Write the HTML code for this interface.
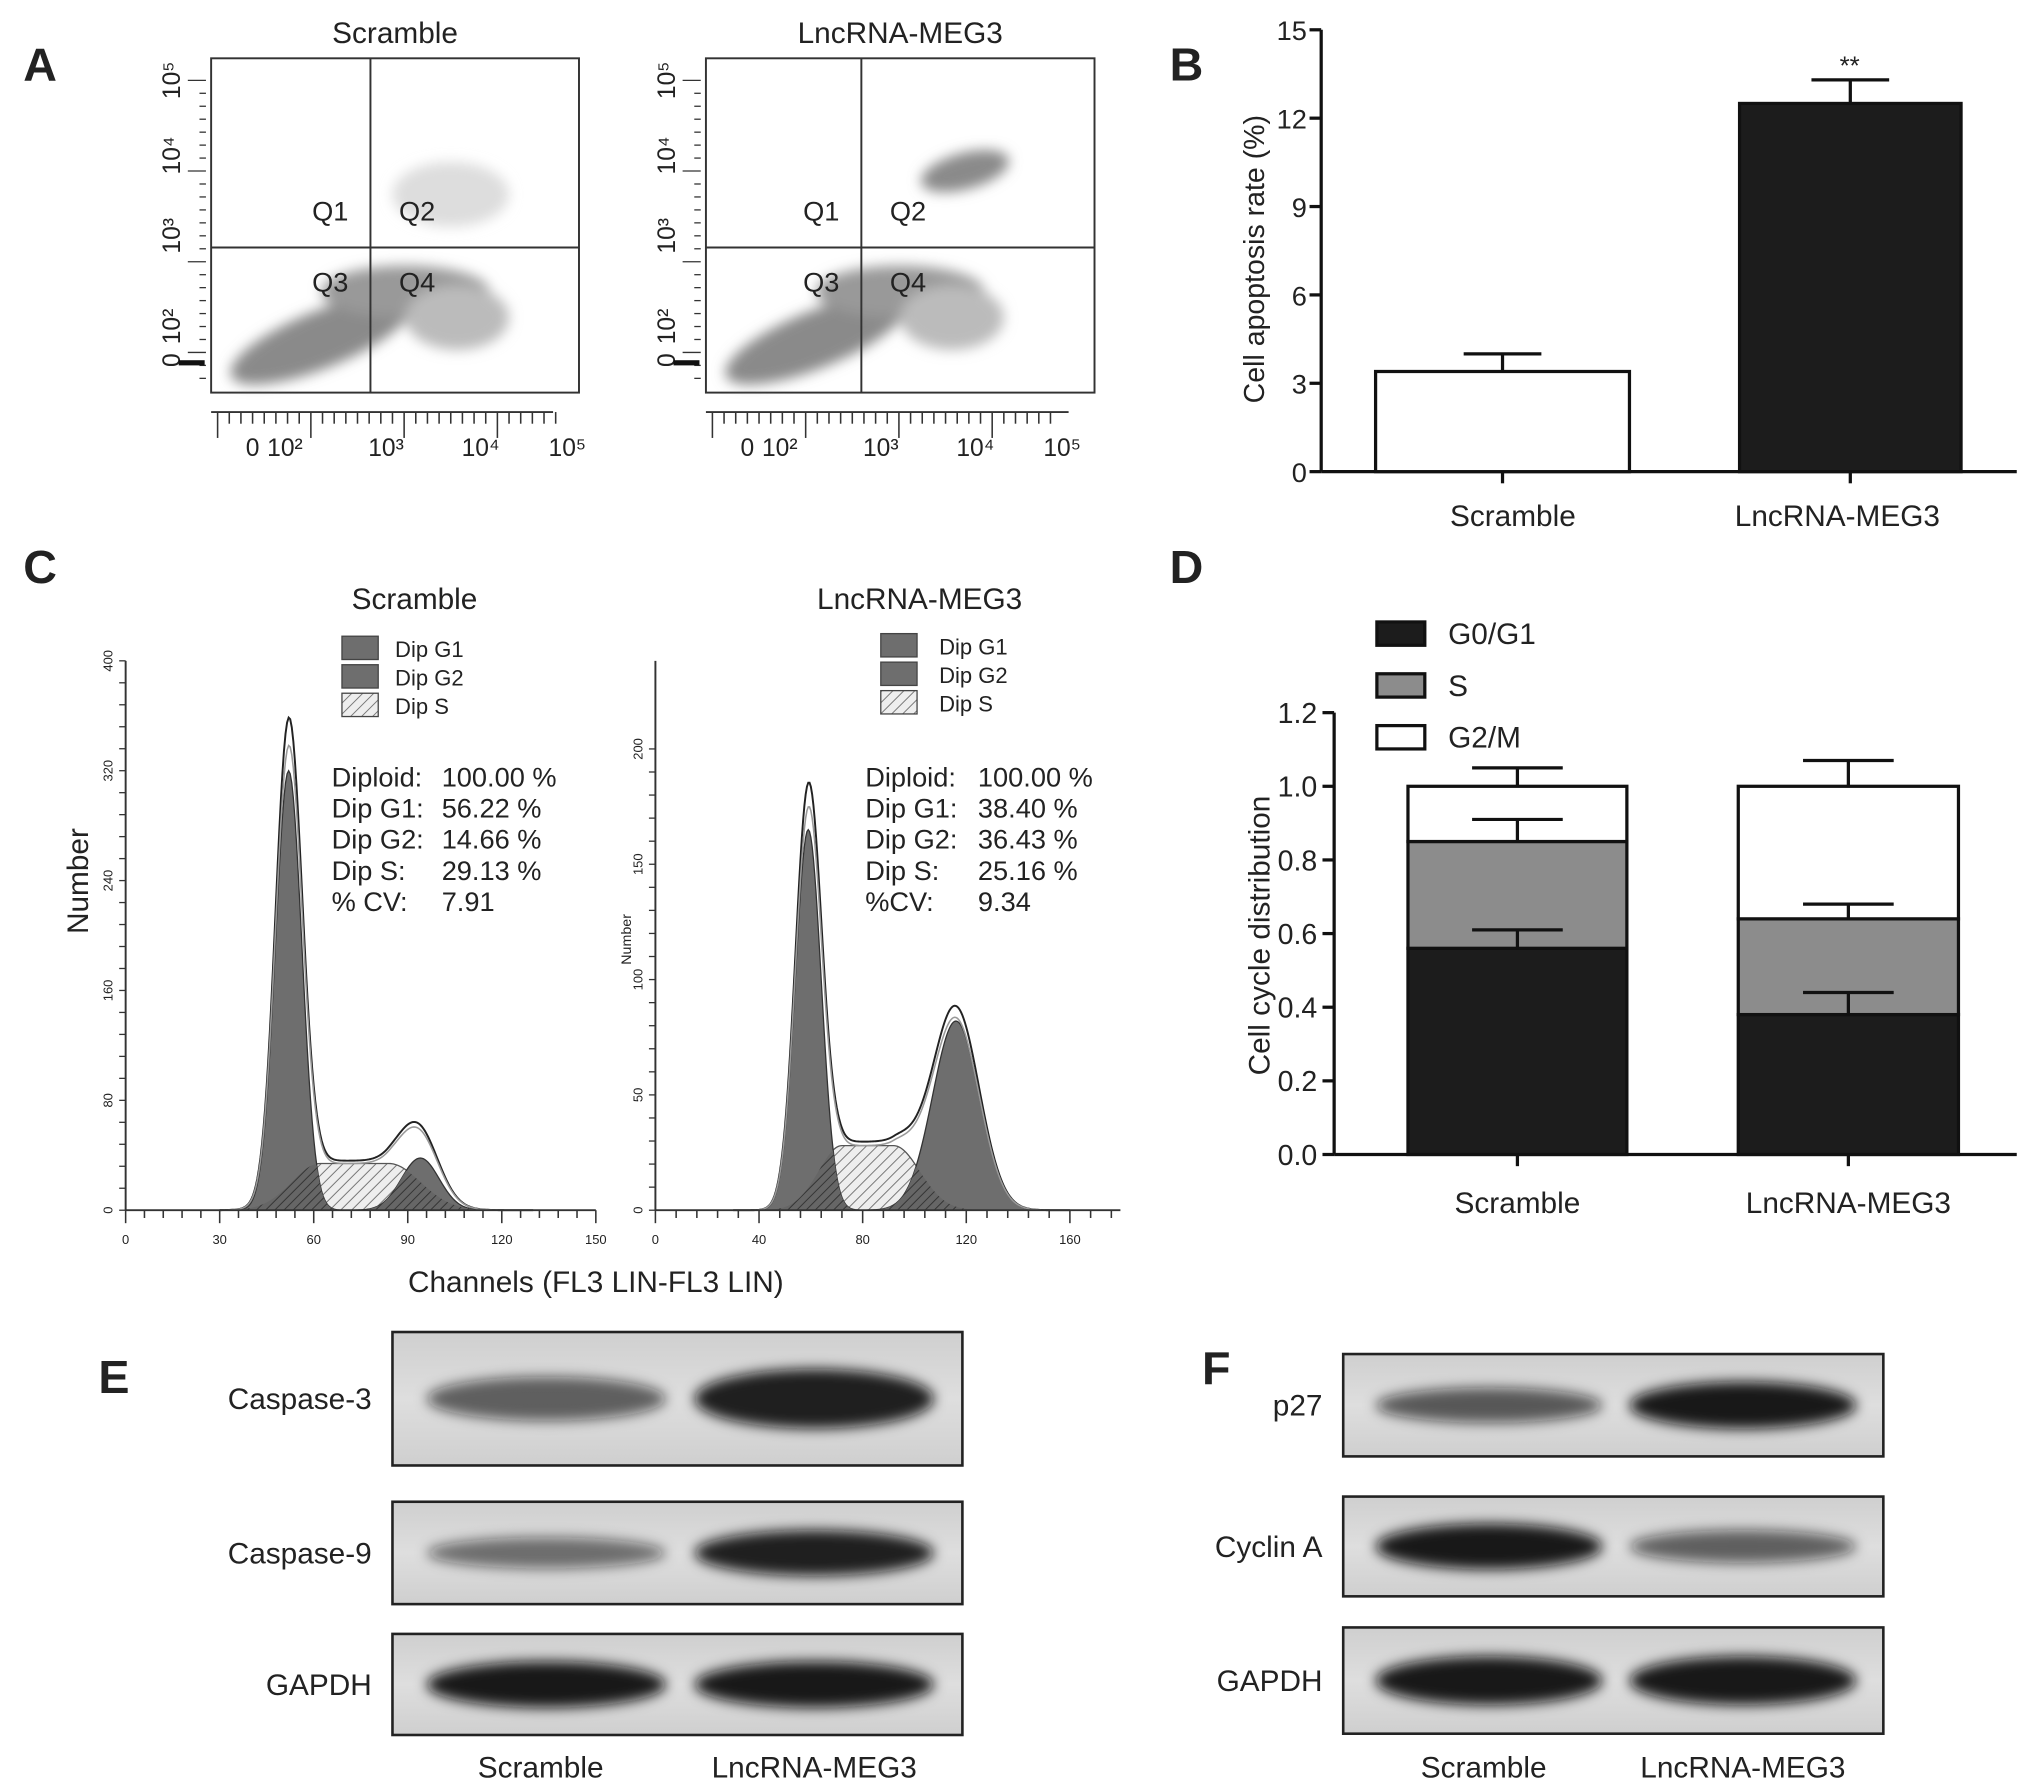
<!DOCTYPE html>
<html><head><meta charset="utf-8"><style>
html,body{margin:0;padding:0;background:#fff}
svg{display:block}
text{font-family:"Liberation Sans",Arial,sans-serif;fill:#222}
</style></head><body>
<svg id="fig" width="2031" height="1792" viewBox="0 0 1568 1383" preserveAspectRatio="none" xmlns="http://www.w3.org/2000/svg">
<defs>
<filter id="blur3" x="-50%" y="-50%" width="200%" height="200%"><feGaussianBlur stdDeviation="5"/></filter>
<filter id="blur1"><feGaussianBlur stdDeviation="2"/></filter>
<pattern id="hatch" width="6" height="6" patternUnits="userSpaceOnUse" patternTransform="rotate(45)"><rect width="6" height="6" fill="#eee"/><line x1="0" y1="0" x2="0" y2="6" stroke="#777" stroke-width="1.5"/></pattern>
<pattern id="hatchD" width="5" height="5" patternUnits="userSpaceOnUse" patternTransform="rotate(45)"><rect width="5" height="5" fill="#666"/><line x1="0" y1="0" x2="0" y2="5" stroke="#333" stroke-width="1.5"/></pattern>
<linearGradient id="blotbg" x1="0" y1="0" x2="0" y2="1"><stop offset="0" stop-color="#cfcfcf"/><stop offset="0.5" stop-color="#dedede"/><stop offset="1" stop-color="#cfcfcf"/></linearGradient>
</defs>

<text x="18" y="62" font-size="36" font-weight="bold">A</text>
<text x="903" y="62" font-size="36" font-weight="bold">B</text>
<text x="18" y="450" font-size="36" font-weight="bold">C</text>
<text x="903" y="450" font-size="36" font-weight="bold">D</text>
<text x="76" y="1075" font-size="36" font-weight="bold">E</text>
<text x="928" y="1068" font-size="36" font-weight="bold">F</text>

<g id="flowA"></g>
<g id="chartB"></g>
<g id="chartC"></g>
<g id="chartD"></g>
<g id="blots"></g>
</svg>
<script>
const NS='http://www.w3.org/2000/svg';
function mk(parent,tag,attrs,txt){const e=document.createElementNS(NS,tag);for(const k in attrs)e.setAttribute(k,attrs[k]);if(txt!==undefined)e.textContent=txt;parent.appendChild(e);return e;}

// ---------- Panel B data ----------
const bCategories=['Scramble','LncRNA-MEG3'];
const bValues=[3.4,12.5];
const bErrors=[0.6,0.8];
const bTicks=[0,3,6,9,12,15];
const bFills=['#fff','#1c1c1c'];

// ---------- Panel D data ----------
const dCategories=['Scramble','LncRNA-MEG3'];
const dG0G1=[0.56,0.38];
const dS=[0.29,0.26];
const dG2M=[0.15,0.36];
const dErrG0G1=[0.05,0.06];
const dErrS=[0.06,0.04];
const dErrG2M=[0.05,0.07];
const dTicks=[0.0,0.2,0.4,0.6,0.8,1.0,1.2];

// ---------- Panel C data (peak models) ----------
const cTitles=['Scramble','LncRNA-MEG3'];
const cG1Center=[52,59];const cG1Height=[320,165];const cG1Sigma=[4.2,5];
const cG2Center=[94,116];const cG2Height=[38,82];const cG2Sigma=[6,9];
const cSStart=[62,72];const cSEnd=[84,92];const cSHeight=[34,28];
const cXTicksL=[0,30,60,90,120,150];const cYTicksL=[0,80,160,240,320,400];
const cXTicksR=[0,40,80,120,160];const cYTicksR=[0,50,100,150,200];
const cStats=[[['Diploid:','100.00 %'],['Dip G1:','56.22 %'],['Dip G2:','14.66 %'],['Dip S:','29.13 %'],['% CV:','7.91']],
[['Diploid:','100.00 %'],['Dip G1:','38.40 %'],['Dip G2:','36.43 %'],['Dip S:','25.16 %'],['%CV:','9.34']]];

// ===== Panel B =====
(function(){
 const g=document.getElementById('chartB');
 const x0=1020,x1=1557,yb=364,yt=23,max=15;
 const y=v=>yb-(yb-yt)*v/max;
 const bx=[[1062,1258],[1343,1514]];
 mk(g,'line',{x1:x0,y1:yt,x2:x0,y2:yb,stroke:'#111','stroke-width':2.5});
 mk(g,'line',{x1:x0,y1:yb,x2:x1,y2:yb,stroke:'#111','stroke-width':2.5});
 bTicks.forEach(t=>{mk(g,'line',{x1:x0-9,y1:y(t),x2:x0,y2:y(t),stroke:'#111','stroke-width':2.5});
  const tl=mk(g,'text',{x:x0-11,y:y(t)+8,'font-size':21,'text-anchor':'end'},String(t));
  });
 bCategories.forEach((c,i)=>{
  const cx=(bx[i][0]+bx[i][1])/2;
  mk(g,'line',{x1:cx,y1:y(bValues[i]),x2:cx,y2:y(bValues[i]+bErrors[i]),stroke:'#111','stroke-width':2.5});
  mk(g,'line',{x1:cx-30,y1:y(bValues[i]+bErrors[i]),x2:cx+30,y2:y(bValues[i]+bErrors[i]),stroke:'#111','stroke-width':2.5});
  const r=mk(g,'rect',{x:bx[i][0],y:y(bValues[i]),width:bx[i][1]-bx[i][0],height:yb-y(bValues[i]),fill:bFills[i],stroke:'#111','stroke-width':2.5});
  
  mk(g,'line',{x1:cx,y1:yb,x2:cx,y2:yb+9,stroke:'#111','stroke-width':2.5});
  const t=mk(g,'text',{x:cx+(i?-10:8),y:406,'font-size':23,'text-anchor':'middle'},c);
  
 });
 const s=mk(g,'text',{x:1428,y:y(bValues[1]+bErrors[1])-4,'font-size':20,'text-anchor':'middle'},'**');
 
 const yt2=mk(g,'text',{x:0,y:0,'font-size':22,'text-anchor':'middle',transform:'translate(976,200) rotate(-90)'},'Cell apoptosis rate (%)');
 
})();

// ===== Panel D =====
(function(){
 const g=document.getElementById('chartD');
 const x0=1030,x1=1557,yb=891,yt=550,max=1.2;
 const y=v=>yb-(yb-yt)*v/max;
 const bx=[[1087,1256],[1342,1512]];
 mk(g,'line',{x1:x0,y1:yt,x2:x0,y2:yb,stroke:'#111','stroke-width':2.5});
 mk(g,'line',{x1:x0,y1:yb,x2:x1,y2:yb,stroke:'#111','stroke-width':2.5});
 dTicks.forEach(t=>{mk(g,'line',{x1:x0-9,y1:y(t),x2:x0,y2:y(t),stroke:'#111','stroke-width':2.5});
  const tl=mk(g,'text',{x:x0-13,y:y(t)+8,'font-size':22,'text-anchor':'end'},t.toFixed(1));
  });
 dCategories.forEach((c,i)=>{
  const w=bx[i][1]-bx[i][0],cx=(bx[i][0]+bx[i][1])/2;
  const segs=[[0,dG0G1[i],'#1c1c1c',dErrG0G1[i],'g0g1'],[dG0G1[i],dG0G1[i]+dS[i],'#8c8c8c',dErrS[i],'s'],[dG0G1[i]+dS[i],dG0G1[i]+dS[i]+dG2M[i],'#fff',dErrG2M[i],'g2m']];
  segs.forEach(sg=>{
   const r=mk(g,'rect',{x:bx[i][0],y:y(sg[1]),width:w,height:y(sg[0])-y(sg[1]),fill:sg[2],stroke:'#111','stroke-width':2.5});
   
  });
  segs.forEach(sg=>{
   mk(g,'line',{x1:cx,y1:y(sg[1]),x2:cx,y2:y(sg[1]+sg[3]),stroke:'#111','stroke-width':2.5});
   mk(g,'line',{x1:cx-35,y1:y(sg[1]+sg[3]),x2:cx+35,y2:y(sg[1]+sg[3]),stroke:'#111','stroke-width':2.5});
  });
  mk(g,'line',{x1:cx,y1:yb,x2:cx,y2:yb+9,stroke:'#111','stroke-width':2.5});
  const t=mk(g,'text',{x:cx,y:936,'font-size':23,'text-anchor':'middle'},c);
  
 });
 [['G0/G1','#1c1c1c',480],['S','#8c8c8c',520],['G2/M','#fff',560]].forEach(l=>{
  const r=mk(g,'rect',{x:1063,y:l[2],width:37,height:18,fill:l[1],stroke:'#111','stroke-width':2.5});
  
  const t=mk(g,'text',{x:1118,y:l[2]+17,'font-size':23},l[0]);
  
 });
 const yt2=mk(g,'text',{x:0,y:0,'font-size':23,'text-anchor':'middle',transform:'translate(980,722) rotate(-90)'},'Cell cycle distribution');
 
})();

// ===== Panel C =====
(function(){
 const g=document.getElementById('chartC');
 const cfg=[{x0:97,xs:2.42,yb:934,ys:1.06,xmax:150,ax1:460,yTop:510,xt:cXTicksL,yt:cYTicksL,title:[320,470],leg:[264,305,500],st:[256,341,600]},
            {x0:506,xs:2.0,yb:934,ys:1.78,xmax:180,ax1:865,yTop:510,xt:cXTicksR,yt:cYTicksR,title:[710,470],leg:[680,725,498],st:[668,755,600]}];
 const gauss=(x,c,h,s)=>h*Math.exp(-0.5*((x-c)/s)**2);
 const sfun=(x,a,b,h)=>{ if(x<a) return h*Math.exp(-0.5*((x-a)/9)**2); if(x>b) return h*Math.exp(-0.5*((x-b)/10)**2); return h;};
 cfg.forEach((c,i)=>{
  const X=v=>c.x0+v*c.xs, Y=v=>c.yb-v*c.ys;
  const xs=[];for(let v=30;v<=c.xmax-20;v+=0.5)xs.push(v);
  const g1=v=>gauss(v,cG1Center[i],cG1Height[i],cG1Sigma[i]);
  const g2=v=>gauss(v,cG2Center[i],cG2Height[i],cG2Sigma[i]);
  const sv=v=>sfun(v,cSStart[i],cSEnd[i],cSHeight[i]);
  const area=f=>'M'+X(xs[0])+','+c.yb+' '+xs.map(v=>'L'+X(v)+','+Y(f(v))).join(' ')+' L'+X(xs[xs.length-1])+','+c.yb+'Z';
  const line=f=>'M'+xs.map(v=>X(v)+','+Y(f(v))).join(' L');
  let p=mk(g,'path',{d:area(sv),fill:'url(#hatch)',stroke:'#555','stroke-width':1});
  
  p=mk(g,'path',{d:area(g1),fill:'#6e6e6e',stroke:'#333','stroke-width':1});
  
  p=mk(g,'path',{d:area(g2),fill:'#6e6e6e',stroke:'#333','stroke-width':1});
  
  mk(g,'path',{d:area(v=>Math.min(g1(v),sv(v))),fill:'url(#hatchD)',stroke:'none'});
  mk(g,'path',{d:area(v=>Math.min(g2(v),sv(v))),fill:'url(#hatchD)',stroke:'none'});
  const tot=v=>g1(v)+g2(v)+sv(v);
  p=mk(g,'path',{d:line(v=>tot(v)*1.06),fill:'none',stroke:'#222','stroke-width':1.5});
  
  mk(g,'path',{d:line(tot),fill:'none',stroke:'#999','stroke-width':1.2});
  mk(g,'line',{x1:c.x0,y1:c.yb,x2:c.ax1,y2:c.yb,stroke:'#333','stroke-width':1.5});
  mk(g,'line',{x1:c.x0,y1:c.yTop,x2:c.x0,y2:c.yb,stroke:'#333','stroke-width':1.5});
  const step=(c.xt[1]-c.xt[0])/5;
  for(let v=0;v<=(c.ax1-c.x0)/c.xs+0.01;v+=step){const big=Math.abs(v/(step*5)-Math.round(v/(step*5)))<0.01;mk(g,'line',{x1:X(v),y1:c.yb,x2:X(v),y2:c.yb+(big?10:6),stroke:'#333','stroke-width':1.2});}
  c.xt.forEach(t=>{const tl=mk(g,'text',{x:X(t),y:c.yb+26,'font-size':10,'text-anchor':'middle',fill:'#666'},String(t));
   });
  const ystep=(c.yt[1]-c.yt[0])/5;
  for(let v=0;v<=c.yt[c.yt.length-1]+0.01;v+=ystep){mk(g,'line',{x1:c.x0-5,y1:Y(v),x2:c.x0,y2:Y(v),stroke:'#333','stroke-width':1});}
  c.yt.forEach(t=>{const tl=mk(g,'text',{x:0,y:0,'font-size':10,'text-anchor':'middle',fill:'#666',transform:'translate('+(c.x0-10)+','+Y(t)+') rotate(-90)'},String(t));
   });
  const tt=mk(g,'text',{x:c.title[0],y:c.title[1],'font-size':23,'text-anchor':'middle'},cTitles[i]);
  
  [['Dip G1','#6e6e6e'],['Dip G2','#6e6e6e'],['Dip S','url(#hatch)']].forEach((l,k)=>{
   mk(g,'rect',{x:c.leg[0],y:c.leg[2]+k*22-9,width:28,height:18,fill:l[1],stroke:'#444','stroke-width':1});
   const t=mk(g,'text',{x:c.leg[1],y:c.leg[2]+k*22+7,'font-size':17,fill:'#555'},l[0]);
   
  });
  cStats[i].forEach((r,k)=>{
   const a=mk(g,'text',{x:c.st[0],y:c.st[2]+k*24+7,'font-size':21,fill:'#444'},r[0]);
   
   const b=mk(g,'text',{x:c.st[1],y:c.st[2]+k*24+7,'font-size':21,fill:'#444'},r[1]);
   
  });
 });
 let t=mk(g,'text',{x:0,y:0,'font-size':23,'text-anchor':'middle',transform:'translate(68,680) rotate(-90)'},'Number');
 
 t=mk(g,'text',{x:0,y:0,'font-size':11,'text-anchor':'middle',transform:'translate(487,725) rotate(-90)'},'Number');
 
 t=mk(g,'text',{x:460,y:997,'font-size':23,'text-anchor':'middle'},'Channels (FL3 LIN-FL3 LIN)');
 
})();

// ===== Panel A flow plots =====
(function(){
 const g=document.getElementById('flowA');
 const plots=[{x:163,w:284,vx:286,title:'Scramble'},{x:545,w:300,vx:665,title:'LncRNA-MEG3'}];
 plots.forEach((p,i)=>{
  const y0=45,h=258,hy=191;
  mk(g,'rect',{x:p.x,y:y0,width:p.w,height:h,fill:'#fff',stroke:'#333','stroke-width':1.5});
  const bl=mk(g,'g',{filter:'url(#blur3)'});
  mk(bl,'ellipse',{cx:p.x+85,cy:262,rx:75,ry:22,fill:'#8a8a8a',transform:'rotate(-22 '+(p.x+85)+' 262)'});
  mk(bl,'ellipse',{cx:p.x+150,cy:225,rx:65,ry:20,fill:'#999'});
  mk(bl,'ellipse',{cx:p.x+190,cy:245,rx:40,ry:25,fill:'#bbb'});
  if(i===1) mk(bl,'ellipse',{cx:p.x+200,cy:132,rx:35,ry:14,fill:'#8a8a8a',transform:'rotate(-15 '+(p.x+200)+' 132)'});
  else mk(bl,'ellipse',{cx:p.x+185,cy:150,rx:45,ry:25,fill:'#ddd'});
  mk(g,'line',{x1:p.vx,y1:y0,x2:p.vx,y2:y0+h,stroke:'#333','stroke-width':1.5});
  mk(g,'line',{x1:p.x,y1:hy,x2:p.x+p.w,y2:hy,stroke:'#333','stroke-width':1.5});
  [['Q1',p.vx-45,170],['Q2',p.vx+22,170],['Q3',p.vx-45,225],['Q4',p.vx+22,225]].forEach(q=>{
   const t=mk(g,'text',{x:q[1],y:q[2],'font-size':21,fill:'#333'},q[0]);
   
  });
  const tt=mk(g,'text',{x:p.x+p.w/2,y:33,'font-size':23,'text-anchor':'middle'},p.title);
  
  const xl=[['0',p.x+32],['10\u00b2',p.x+57],['10\u00b3',p.x+135],['10\u2074',p.x+208],['10\u2075',p.x+275]];
  xl.forEach(l=>{const t=mk(g,'text',{x:l[1],y:352,'font-size':19,'text-anchor':'middle',fill:'#333'},l[0]);
   });
  mk(g,'line',{x1:p.x,y1:318,x2:p.x+p.w-20,y2:318,stroke:'#333','stroke-width':1.5});
  for(let k=0;k<30;k++){const xx=p.x+5+k*9;mk(g,'line',{x1:xx,y1:318,x2:xx,y2:k%8===0?338:327,stroke:'#333','stroke-width':1.2});}
  const yl=[['0',278],['10\u00b2',252],['10\u00b3',182],['10\u2074',120],['10\u2075',62]];
  yl.forEach(l=>{const t=mk(g,'text',{x:0,y:0,'font-size':19,'text-anchor':'middle',fill:'#333',transform:'translate('+(p.x-24)+','+l[1]+') rotate(-90)'},l[0]);
   });
  for(let k=0;k<24;k++){const yy=62+k*10;mk(g,'line',{x1:p.x-(k%7===0?18:9),y1:yy,x2:p.x-4,y2:yy,stroke:'#333','stroke-width':1});}
  mk(g,'rect',{x:p.x-25,y:278,width:20,height:4,fill:'#111'});
 });
})();

// ===== Blots =====
(function(){
 const g=document.getElementById('blots');
 const blotLabelsE=['Caspase-3','Caspase-9','GAPDH'];
 const blotBoxesE=[[303,1028,440,103],[303,1159,440,79],[303,1261,440,78]];
 const intenE=[[0.5,0.95],[0.4,0.95],[1,1]];
 const blotLabelsF=['p27','Cyclin A','GAPDH'];
 const blotBoxesF=[[1037,1045,417,79],[1037,1155,417,77],[1037,1256,417,82]];
 const intenF=[[0.55,1],[1,0.5],[1,1]];
 function draw(labels,boxes,inten,lx,bottom){
  labels.forEach((l,k)=>{
   const b=boxes[k];
   const r=mk(g,'rect',{x:b[0],y:b[1],width:b[2],height:b[3],fill:'url(#blotbg)',stroke:'#222','stroke-width':2});
   
   const bg=mk(g,'g',{filter:'url(#blur3)'});
   [0,1].forEach(j=>{
    const cx=b[0]+b[2]*(j?0.74:0.27),cy=b[1]+b[3]/2;
    const a=inten[k][j];
    mk(bg,'ellipse',{cx:cx,cy:cy,rx:b[2]*0.21,ry:b[3]*(0.1+0.13*a),fill:'#111','fill-opacity':0.3+0.65*a});
   });
   const t=mk(g,'text',{x:lx,y:b[1]+b[3]/2+8,'font-size':23,'text-anchor':'end'},l);
   
  });
  const b=boxes[0];
  let t=mk(g,'text',{x:b[0]+b[2]*0.26,y:bottom,'font-size':23,'text-anchor':'middle'},'Scramble');
  
  t=mk(g,'text',{x:b[0]+b[2]*0.74,y:bottom,'font-size':23,'text-anchor':'middle'},'LncRNA-MEG3');
  
 }
 draw(blotLabelsE,blotBoxesE,intenE,287,1372);
 draw(blotLabelsF,blotBoxesF,intenF,1021,1372);
})();
</script>
</body></html>
